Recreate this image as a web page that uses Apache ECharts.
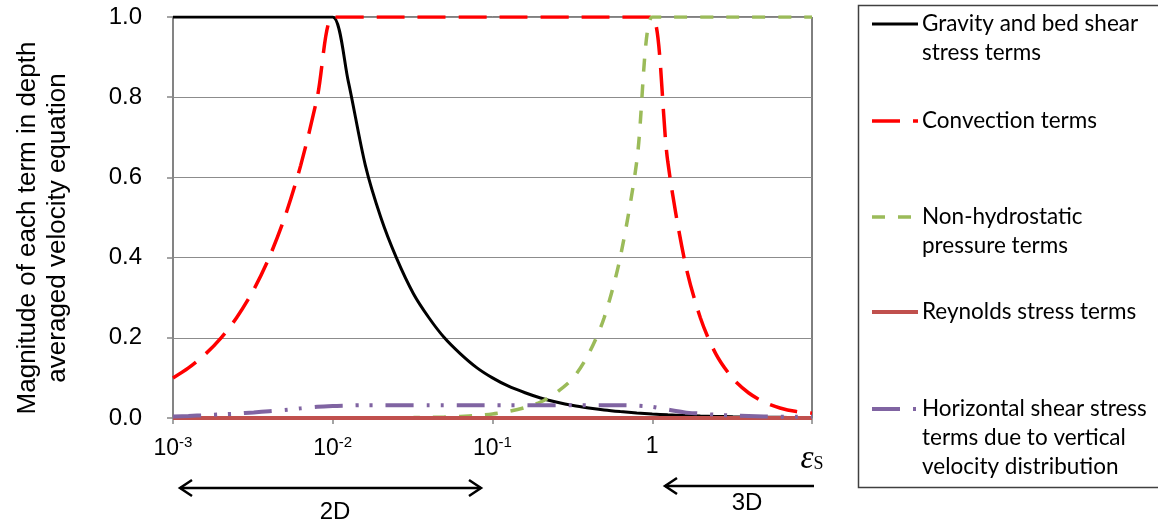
<!DOCTYPE html>
<html>
<head>
<meta charset="utf-8">
<script src="https://cdn.jsdelivr.net/npm/echarts@6/dist/echarts.min.js"></script>
<style>
  html, body { margin: 0; padding: 0; background: #fff; }
  #chart { width: 1158px; height: 523px; }
</style>
</head>
<body>
<div id="chart"></div>
<script>
// x values (epsilon_s), log scale, ~10 per decade
const eps = [0.001, 0.00125, 0.0016, 0.002, 0.0025, 0.0032, 0.004, 0.005, 0.0063, 0.008,
  0.01, 0.0125, 0.016, 0.02, 0.025, 0.032, 0.04, 0.05, 0.063, 0.08,
  0.1, 0.125, 0.16, 0.2, 0.25, 0.32, 0.4, 0.5, 0.63, 0.8,
  1, 1.25, 1.6, 2, 2.5, 3.2, 4, 5, 6.3, 8, 10]

const gravity = [1, 1, 1, 1, 1, 1, 1, 1, 1, 1,
  1, 0.84, 0.63, 0.5, 0.4, 0.31, 0.25, 0.2, 0.16, 0.125,
  0.1, 0.08, 0.063, 0.05, 0.04, 0.031, 0.025, 0.02, 0.016, 0.0125,
  0.01, 0.008, 0.0063, 0.005, 0.004, 0.0031, 0.0025, 0.002, 0.0016, 0.00125, 0.001]

const convection = [0.1, 0.125, 0.16, 0.2, 0.25, 0.32, 0.4, 0.5, 0.63, 0.8,
  1, 1, 1, 1, 1, 1, 1, 1, 1, 1,
  1, 1, 1, 1, 1, 1, 1, 1, 1, 1,
  1, 0.64, 0.39, 0.25, 0.16, 0.098, 0.063, 0.04, 0.025, 0.016, 0.012]

const nonHydro = [0, 0, 0, 0, 0, 0, 0, 0, 0, 0,
  0.0001, 0.00016, 0.00026, 0.0004, 0.0006, 0.001, 0.0016, 0.0025, 0.004, 0.0064,
  0.01, 0.016, 0.026, 0.04, 0.063, 0.1, 0.16, 0.25, 0.4, 0.64,
  1, 1, 1, 1, 1, 1, 1, 1, 1, 1, 1]

const reynolds = [0, 0, 0, 0, 0, 0, 0, 0, 0, 0,
  0, 0, 0, 0, 0, 0, 0, 0, 0, 0,
  0, 0, 0, 0, 0, 0, 0, 0, 0, 0,
  0, 0, 0, 0, 0, 0, 0, 0, 0, 0, 0]

const horizShear = [0.004, 0.005, 0.007, 0.009, 0.011, 0.014, 0.017, 0.02, 0.024, 0.028,
  0.03, 0.031, 0.032, 0.032, 0.032, 0.032, 0.032, 0.032, 0.032, 0.032,
  0.032, 0.032, 0.032, 0.032, 0.032, 0.032, 0.032, 0.032, 0.032, 0.031,
  0.028, 0.021, 0.014, 0.011, 0.008, 0.006, 0.005, 0.004, 0.003, 0.003, 0.003]

const yTicks = ['0.0', '0.2', '0.4', '0.6', '0.8', '1.0']
// labels for 10^-3 .. 10^1
const xTickLabels = ['{b|10}{sup|-3}', '{b|10}{sup|-2}', '{b|10}{sup|-1}', '{b|1}', '{eps|ε}{sub|S}']

const legendNames = [
  'Gravity and bed shear\nstress terms',
  'Convection terms',
  'Non-hydrostatic\npressure terms',
  'Reynolds stress terms',
  'Horizontal shear stress\nterms due to vertical\nvelocity distribution'
]

const colors = ['#000000', '#FF0000', '#9BBB59', '#C0504D', '#8064A2']
const dashes = ['solid', [28, 13], [13, 13], 'solid', [28, 13, 3, 11, 3, 13]]
const widths = [3, 3.5, 3.5, 4, 4]

function pairs (ys) {
  return eps.map((x, i) => [x, ys[i]])
}

const chart = echarts.init(document.getElementById('chart'))

const allData = [gravity, convection, nonHydro, reynolds, horizShear]
let series = allData.map((d, i) => ({
  name: legendNames[i],
  type: 'line',
  data: pairs(d),
  showSymbol: false,
  smooth: 0.3,
  lineStyle: { color: colors[i], width: widths[i], type: dashes[i], cap: 'butt' },
  z: 2 + i
}))

// legend drawn by hand (uneven spacing in the original)
const legendLineY = [24, 121, 217, 312, 409]
let graphic = [
  { type: 'rect', shape: { x: 858.5, y: 5.5, width: 320, height: 482 }, style: { fill: 'none', stroke: '#404040', lineWidth: 1.5 } }
]
legendNames.forEach((n, i) => {
  graphic.push({
    type: 'line',
    shape: { x1: 872, y1: legendLineY[i], x2: 918, y2: legendLineY[i] },
    style: { stroke: colors[i], lineWidth: widths[i], lineDash: dashes[i] === 'solid' ? null : dashes[i] }
  })
  graphic.push({
    type: 'text',
    x: 922,
    y: legendLineY[i] - 15,
    style: { text: n, fontFamily: 'Lato', fontSize: 22.5, lineHeight: 29, fill: '#000', verticalAlign: 'top' }
  })
})

// y axis title
graphic.push({
  type: 'text',
  x: 43,
  y: 228,
  rotation: Math.PI / 2,
  style: {
    text: 'Magnitude of each term in depth\naveraged velocity equation',
    fontFamily: 'Liberation Sans', fontSize: 26, lineHeight: 30,
    fill: '#000', align: 'center', verticalAlign: 'middle'
  }
})

// 2D / 3D arrows
const arrowStyle = { stroke: '#000', lineWidth: 2.5, fill: 'none' }
graphic.push(
  { type: 'line', shape: { x1: 180, y1: 488, x2: 481, y2: 488 }, style: arrowStyle },
  { type: 'polyline', shape: { points: [[192, 480], [180, 488], [192, 496]] }, style: arrowStyle },
  { type: 'polyline', shape: { points: [[469, 480], [481, 488], [469, 496]] }, style: arrowStyle },
  { type: 'text', x: 335, y: 512, style: { text: '2D', fontFamily: 'Liberation Sans', fontSize: 24, fill: '#000', align: 'center', verticalAlign: 'middle' } },
  { type: 'line', shape: { x1: 665, y1: 486, x2: 814, y2: 486 }, style: arrowStyle },
  { type: 'polyline', shape: { points: [[677, 478], [665, 486], [677, 494]] }, style: arrowStyle },
  { type: 'text', x: 747, y: 503, style: { text: '3D', fontFamily: 'Liberation Sans', fontSize: 24, fill: '#000', align: 'center', verticalAlign: 'middle' } }
)

let option = {
  animation: false,
  backgroundColor: '#fff',
  grid: {
    left: 173,
    right: 346,
    top: 17,
    bottom: 105,
    show: true,
    borderColor: '#000',
    borderWidth: 1
  },
  xAxis: {
    type: 'log',
    logBase: 10,
    min: 0.001,
    max: 10,
    axisLine: { show: true, lineStyle: { color: '#868686', width: 1.5 } },
    axisTick: { show: true, length: 6, lineStyle: { color: '#868686', width: 1.5 } },
    splitLine: { show: false },
    minorTick: { show: false },
    axisLabel: {
      margin: 17,
      formatter: function (v) {
        let p = Math.round(Math.log10(v))
        return xTickLabels[p + 3]
      },
      rich: {
        b: { fontFamily: 'Liberation Sans', fontSize: 23, color: '#000' },
        sup: { fontFamily: 'Liberation Sans', fontSize: 15, color: '#000', padding: [0, 0, 13, 0] },
        eps: { fontFamily: 'Liberation Serif', fontStyle: 'italic', fontSize: 33, color: '#000', padding: [8, 0, 0, 0] },
        sub: { fontFamily: 'Liberation Serif', fontSize: 18, color: '#000', padding: [18, 0, 0, 0] }
      }
    }
  },
  yAxis: {
    type: 'value',
    min: 0,
    max: 1,
    interval: 0.2,
    axisLine: { show: true, lineStyle: { color: '#868686', width: 1.5 } },
    axisTick: { show: true, length: 6, lineStyle: { color: '#868686', width: 1.5 } },
    splitLine: { show: true, lineStyle: { color: '#8c8c8c', width: 1.2 } },
    axisLabel: {
      margin: 31,
      fontFamily: 'Liberation Sans',
      fontSize: 24,
      color: '#000',
      formatter: function (v) {
        return yTicks[Math.round(v * 5)]
      }
    }
  },
  graphic: graphic,
  series: series
}

chart.setOption(option)
</script>
</body>
</html>
